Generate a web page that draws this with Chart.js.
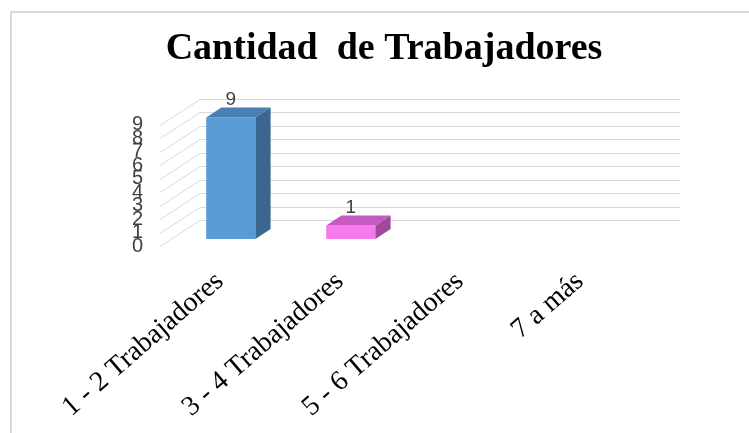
<!DOCTYPE html>
<html>
<head>
<meta charset="utf-8">
<script src="https://cdn.jsdelivr.net/npm/chart.js@4.4.1/dist/chart.umd.min.js"></script>
<style>
  body { margin: 0; background: #fff; }
  #wrap { width: 749px; height: 433px; }
</style>
</head>
<body>
<div id="wrap"><canvas id="chart" width="749" height="433"></canvas></div>
<script>
// data
const categories = ['1 - 2 Trabajadores', '3 - 4 Trabajadores', '5 - 6 Trabajadores', '7 a más'];
const workers = [9, 1, 0, 0];
const yMax = 9;

// look
const frontColors = ['#5B9BD5', '#F57BEB', '#A5A5A5', '#FFC000'];
const topColors = ['#4A7FB6', '#C65BBF', '#888888', '#D9A300'];
const sideColors = ['#3B6690', '#9E4A99', '#6E6E6E', '#B38600'];
const wall = { dx: 40, dy: -26 };   // 3d depth of the plot
const barFront = 0.27, barDepth = 0.38;

const threeD = {
  id: 'threeD',
  beforeDatasetsDraw(chart) {
    const ctx = chart.ctx, y = chart.scales.y, area = chart.chartArea;
    ctx.save();
    ctx.strokeStyle = '#d9d9d9';
    ctx.lineWidth = 1;
    y.ticks.forEach(t => {
      const py = Math.round(y.getPixelForValue(t.value)) + 0.5;
      ctx.beginPath();
      ctx.moveTo(area.left, py);
      ctx.lineTo(area.left + wall.dx, py + wall.dy);
      ctx.lineTo(area.right + wall.dx, py + wall.dy);
      ctx.stroke();
    });
    ctx.restore();
  },
  afterDatasetsDraw(chart) {
    const ctx = chart.ctx;
    const meta = chart.getDatasetMeta(0);
    const ox = wall.dx * barFront, oy = wall.dy * barFront;
    const ddx = wall.dx * barDepth, ddy = wall.dy * barDepth;
    ctx.save();
    meta.data.forEach((el, i) => {
      const v = workers[i];
      if (!v) return;
      const L = el.x - el.width / 2 + ox, R = el.x + el.width / 2 + ox;
      const T = el.y + oy, B = el.base + oy;
      ctx.fillStyle = frontColors[i];
      ctx.fillRect(L, T, R - L, B - T);
      ctx.fillStyle = topColors[i];
      ctx.beginPath();
      ctx.moveTo(L, T); ctx.lineTo(R, T); ctx.lineTo(R + ddx, T + ddy); ctx.lineTo(L + ddx, T + ddy);
      ctx.closePath(); ctx.fill();
      ctx.fillStyle = sideColors[i];
      ctx.beginPath();
      ctx.moveTo(R, T); ctx.lineTo(R + ddx, T + ddy); ctx.lineTo(R + ddx, B + ddy); ctx.lineTo(R, B);
      ctx.closePath(); ctx.fill();
      ctx.fillStyle = '#404040';
      ctx.font = '19px "Liberation Sans"';
      ctx.textAlign = 'center';
      ctx.textBaseline = 'alphabetic';
      ctx.fillText(String(v), el.x + ox, T + ddy - 3);
    });
    ctx.restore();
  },
  afterDraw(chart) {
    const ctx = chart.ctx;
    ctx.save();
    // frame
    ctx.strokeStyle = '#d9d9d9';
    ctx.lineWidth = 2;
    ctx.beginPath();
    ctx.moveTo(11, 433); ctx.lineTo(11, 12); ctx.lineTo(749, 12);
    ctx.stroke();
    // title
    ctx.fillStyle = '#000';
    ctx.font = 'bold 38px "Liberation Serif"';
    ctx.textAlign = 'center';
    ctx.textBaseline = 'alphabetic';
    ctx.fillText('Cantidad  de Trabajadores', 384, 59);
    ctx.restore();
  }
};

new Chart(document.getElementById('chart'), {
  type: 'bar',
  data: {
    labels: categories,
    datasets: [{
      data: workers,
      backgroundColor: 'rgba(0,0,0,0)',
      barPercentage: 0.41,
      categoryPercentage: 1
    }]
  },
  options: {
    responsive: false,
    animation: false,
    layout: { padding: { top: 124.5, right: 109, left: 0, bottom: 0 } },
    plugins: { legend: { display: false }, tooltip: { enabled: false } },
    scales: {
      x: {
        grid: { display: false },
        border: { display: false },
        ticks: {
          color: '#000',
          font: { family: '"Liberation Serif"', size: 28 },
          maxRotation: 41, minRotation: 41,
          labelOffset: 0,
          padding: 11
        },
        afterFit(s) { s.height = 187; }
      },
      y: {
        min: 0, max: yMax,
        grid: { display: false, drawTicks: false },
        border: { display: false },
        ticks: {
          stepSize: 1, autoSkip: false,
          color: '#404040',
          font: { family: '"Liberation Sans"', size: 20 },
          padding: 17
        },
        afterFit(s) { s.width = 160; }
      }
    }
  },
  plugins: [threeD]
});
</script>
</body>
</html>
